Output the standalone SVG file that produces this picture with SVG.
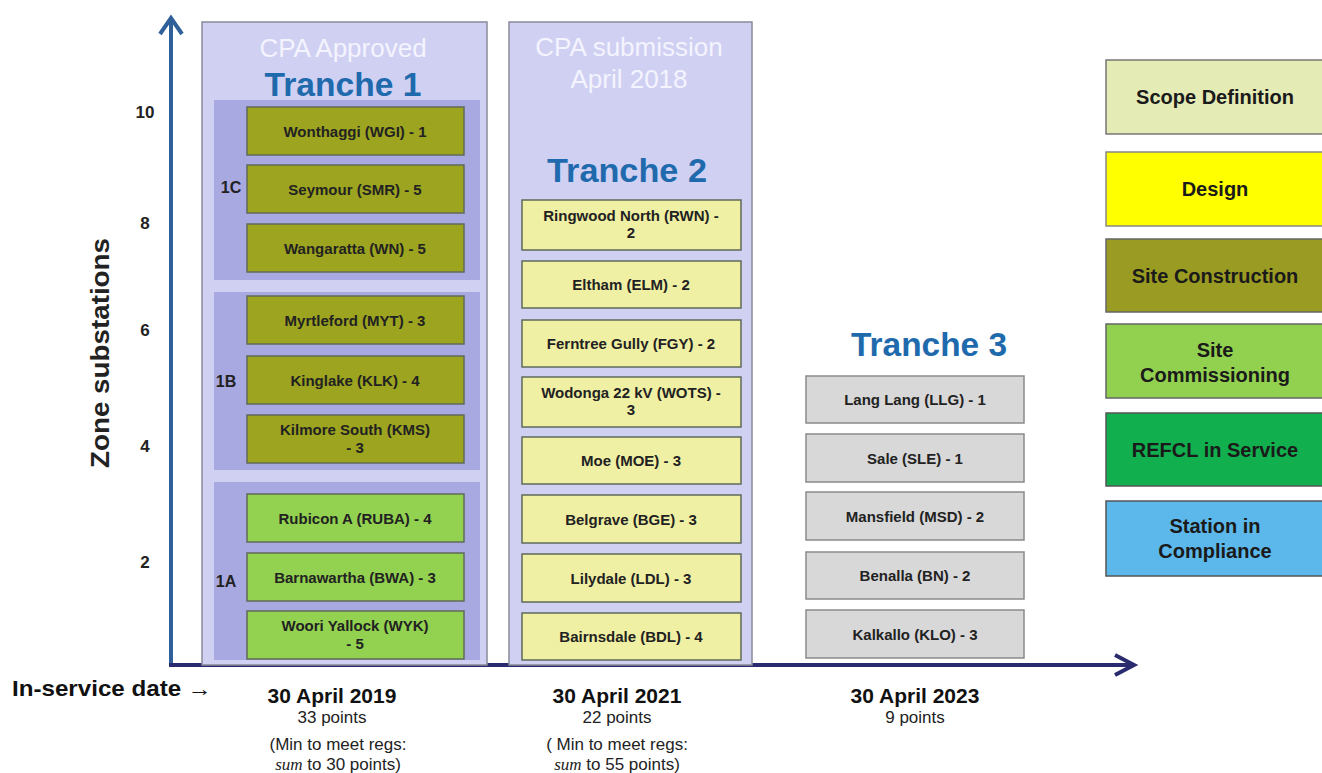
<svg xmlns="http://www.w3.org/2000/svg" width="1322" height="773" viewBox="0 0 1322 773">
<style>
text{font-family:"Liberation Sans",Arial,sans-serif;}
.panel{fill:#d0d0f2;stroke:#8a8a9a;stroke-width:1.5}
.sub{fill:#a9a9e2}
.box{stroke:#5f6a5a;stroke-width:1.5}
.olive{fill:#9da41f}
.lg{fill:#93d150}
.py{fill:#f0f0a4}
.gr{fill:#d8d8d8;stroke:#8a8a8a}
.bl{font-size:15px;font-weight:bold;fill:#222;text-anchor:middle}
.trn{font-size:33px;font-weight:bold;fill:#1e6aad;text-anchor:middle}
.cpa{font-size:26px;fill:#f4f4ff;text-anchor:middle}
.ax{font-size:17px;font-weight:bold;fill:#222;text-anchor:middle}
.grp{font-size:16px;font-weight:bold;fill:#222;text-anchor:middle}
.leg{font-size:20px;font-weight:bold;fill:#1a1a1a;text-anchor:middle}
.date{font-size:21px;font-weight:bold;fill:#111;text-anchor:middle}
.pts{font-size:17px;fill:#222;text-anchor:middle}
</style>

<g id="connectors">
<line x1="171" y1="667" x2="171" y2="20" stroke="#2f609a" stroke-width="4"/>
<polyline points="160,34 171,18 182,34" fill="none" stroke="#2f609a" stroke-width="4"/>
<line x1="169" y1="665" x2="1133" y2="665" stroke="#2a2a6e" stroke-width="4"/>
<polyline points="1115,655 1134,665 1115,675" fill="none" stroke="#2a2a6e" stroke-width="4"/>
</g>

<g id="axis-labels">
<text class="ax" x="145" y="118">10</text>
<text class="ax" x="145" y="229">8</text>
<text class="ax" x="145" y="336">6</text>
<text class="ax" x="145" y="452">4</text>
<text class="ax" x="145" y="568">2</text>
<text x="109" y="353" transform="rotate(-90 109 353)" font-size="25" font-weight="bold" fill="#222" text-anchor="middle" textLength="230" lengthAdjust="spacingAndGlyphs">Zone substations</text>
<text x="12" y="696" font-size="22" font-weight="bold" fill="#111" textLength="200" lengthAdjust="spacingAndGlyphs">In-service date →</text>
</g>

<g id="tranche1">
<rect class="panel" x="202" y="22" width="285" height="643"/>
<text class="cpa" x="343" y="57">CPA Approved</text>
<text class="trn" x="343" y="96" textLength="157" lengthAdjust="spacingAndGlyphs">Tranche 1</text>
<rect class="sub" x="214" y="100" width="266" height="180"/>
<rect class="sub" x="214" y="292" width="266" height="178"/>
<rect class="sub" x="214" y="482" width="266" height="178"/>
<text class="grp" x="231" y="193">1C</text>
<text class="grp" x="226" y="387">1B</text>
<text class="grp" x="226" y="587">1A</text>
</g>

<g id="t1-wonthaggi"><rect class="box olive" x="247" y="107" width="217" height="48"/><text class="bl" x="355" y="137">Wonthaggi (WGI) - 1</text></g>
<g id="t1-seymour"><rect class="box olive" x="247" y="165" width="217" height="48"/><text class="bl" x="355" y="195">Seymour (SMR) - 5</text></g>
<g id="t1-wangaratta"><rect class="box olive" x="247" y="224" width="217" height="48"/><text class="bl" x="355" y="254">Wangaratta (WN) - 5</text></g>
<g id="t1-myrtleford"><rect class="box olive" x="247" y="296" width="217" height="48"/><text class="bl" x="355" y="326">Myrtleford (MYT) - 3</text></g>
<g id="t1-kinglake"><rect class="box olive" x="247" y="356" width="217" height="48"/><text class="bl" x="355" y="386">Kinglake (KLK) - 4</text></g>
<g id="t1-kilmore"><rect class="box olive" x="247" y="415" width="217" height="48"/><text class="bl" x="355" y="435">Kilmore South (KMS)</text><text class="bl" x="355" y="453">- 3</text></g>
<g id="t1-rubicon"><rect class="box lg" x="247" y="494" width="217" height="48"/><text class="bl" x="355" y="524">Rubicon A (RUBA) - 4</text></g>
<g id="t1-barnawartha"><rect class="box lg" x="247" y="553" width="217" height="48"/><text class="bl" x="355" y="583">Barnawartha (BWA) - 3</text></g>
<g id="t1-woori"><rect class="box lg" x="247" y="611" width="217" height="48"/><text class="bl" x="355" y="631">Woori Yallock (WYK)</text><text class="bl" x="355" y="649">- 5</text></g>

<g id="tranche2">
<rect class="panel" x="509" y="22" width="243" height="643"/>
<text class="cpa" x="629" y="56">CPA submission</text>
<text class="cpa" x="629" y="88">April 2018</text>
<text class="trn" x="627" y="182" textLength="160" lengthAdjust="spacingAndGlyphs">Tranche 2</text>
</g>
<g id="t2-ringwood"><rect class="box py" x="522" y="200" width="219" height="50" stroke="#444"/><text class="bl" x="631" y="221">Ringwood North (RWN) -</text><text class="bl" x="631" y="238">2</text></g>
<g id="t2-eltham"><rect class="box py" x="522" y="261" width="219" height="47"/><text class="bl" x="631" y="290">Eltham (ELM) - 2</text></g>
<g id="t2-ferntree"><rect class="box py" x="522" y="320" width="219" height="47"/><text class="bl" x="631" y="349">Ferntree Gully (FGY) - 2</text></g>
<g id="t2-wodonga"><rect class="box py" x="522" y="377" width="219" height="50"/><text class="bl" x="631" y="398">Wodonga 22 kV (WOTS) -</text><text class="bl" x="631" y="415">3</text></g>
<g id="t2-moe"><rect class="box py" x="522" y="437" width="219" height="47"/><text class="bl" x="631" y="466">Moe (MOE) - 3</text></g>
<g id="t2-belgrave"><rect class="box py" x="522" y="495" width="219" height="48"/><text class="bl" x="631" y="525">Belgrave (BGE) - 3</text></g>
<g id="t2-lilydale"><rect class="box py" x="522" y="554" width="219" height="48"/><text class="bl" x="631" y="584">Lilydale (LDL) - 3</text></g>
<g id="t2-bairnsdale"><rect class="box py" x="522" y="613" width="219" height="47"/><text class="bl" x="631" y="642">Bairnsdale (BDL) - 4</text></g>

<g id="tranche3">
<text class="trn" x="929" y="356" textLength="156" lengthAdjust="spacingAndGlyphs">Tranche 3</text>
</g>
<g id="t3-langlang"><rect class="box gr" x="806" y="376" width="218" height="47"/><text class="bl" x="915" y="405">Lang Lang (LLG) - 1</text></g>
<g id="t3-sale"><rect class="box gr" x="806" y="434" width="218" height="48"/><text class="bl" x="915" y="464">Sale (SLE) - 1</text></g>
<g id="t3-mansfield"><rect class="box gr" x="806" y="492" width="218" height="48"/><text class="bl" x="915" y="522">Mansfield (MSD) - 2</text></g>
<g id="t3-benalla"><rect class="box gr" x="806" y="552" width="218" height="47"/><text class="bl" x="915" y="581">Benalla (BN) - 2</text></g>
<g id="t3-kalkallo"><rect class="box gr" x="806" y="610" width="218" height="48"/><text class="bl" x="915" y="640">Kalkallo (KLO) - 3</text></g>

<g id="legend-scope"><rect x="1106" y="60" width="218" height="74" fill="#e5ebb5" stroke="#777" stroke-width="1.5"/><text class="leg" x="1215" y="104">Scope Definition</text></g>
<g id="legend-design"><rect x="1106" y="152" width="218" height="74" fill="#ffff00" stroke="#888" stroke-width="1.5"/><text class="leg" x="1215" y="196">Design</text></g>
<g id="legend-construction"><rect x="1106" y="239" width="218" height="73" fill="#9a9b22" stroke="#666" stroke-width="1.5"/><text class="leg" x="1215" y="283">Site Construction</text></g>
<g id="legend-commissioning"><rect x="1106" y="324" width="218" height="74" fill="#92d050" stroke="#666" stroke-width="1.5"/><text class="leg" x="1215" y="357">Site</text><text class="leg" x="1215" y="382">Commissioning</text></g>
<g id="legend-refcl"><rect x="1106" y="413" width="218" height="73" fill="#12af4f" stroke="#555" stroke-width="1.5"/><text class="leg" x="1215" y="457">REFCL in Service</text></g>
<g id="legend-station"><rect x="1106" y="501" width="218" height="75" fill="#5cb8ea" stroke="#555" stroke-width="1.5"/><text class="leg" x="1215" y="533">Station in</text><text class="leg" x="1215" y="558">Compliance</text></g>

<g id="dates">
<text class="date" x="332" y="703">30 April 2019</text>
<text class="pts" x="332" y="723">33 points</text>
<text class="pts" x="338" y="750">(Min to meet regs:</text>
<text class="pts" x="338" y="770"><tspan font-style="italic" font-family="Liberation Serif,serif">sum</tspan> to 30 points)</text>
<text class="date" x="617" y="703">30 April 2021</text>
<text class="pts" x="617" y="723">22 points</text>
<text class="pts" x="617" y="750">( Min to meet regs:</text>
<text class="pts" x="617" y="770"><tspan font-style="italic" font-family="Liberation Serif,serif">sum</tspan> to 55 points)</text>
<text class="date" x="915" y="703">30 April 2023</text>
<text class="pts" x="915" y="723">9 points</text>
</g>
</svg>
